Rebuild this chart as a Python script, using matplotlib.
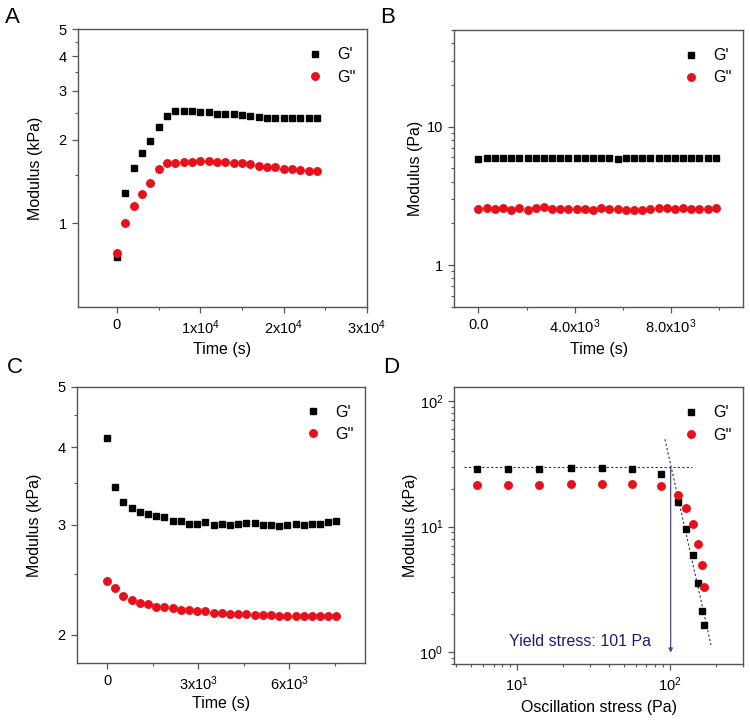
import numpy as np
import matplotlib
matplotlib.use("Agg")
import matplotlib.pyplot as plt
from matplotlib.ticker import FixedLocator, FixedFormatter, LogLocator, NullFormatter
from matplotlib.lines import Line2D

plt.rcParams['font.family'] = ['Liberation Sans', 'DejaVu Sans']
plt.rcParams['mathtext.fontset'] = 'custom'
plt.rcParams['mathtext.rm'] = 'Liberation Sans'
plt.rcParams['mathtext.it'] = 'Liberation Sans:italic'

# ---------------- Data ----------------
# Panel A: time sweep (kPa)
a_time = [0, 1000, 2000, 3000, 4000, 5000, 6000, 7000, 8000, 9000, 10000, 11000, 12000,
          13000, 14000, 15000, 16000, 17000, 18000, 19000, 20000, 21000, 22000, 23000, 24000]
a_gp = [0.754, 1.286, 1.586, 1.80, 1.985, 2.23, 2.43, 2.55, 2.55, 2.54, 2.52, 2.51, 2.48,
        2.47, 2.47, 2.45, 2.43, 2.41, 2.40, 2.39, 2.39, 2.39, 2.39, 2.40, 2.40]
a_gpp = [0.78, 1.00, 1.154, 1.278, 1.40, 1.57, 1.654, 1.65, 1.663, 1.67, 1.675, 1.675, 1.67,
         1.663, 1.654, 1.645, 1.636, 1.609, 1.60, 1.59, 1.57, 1.57, 1.553, 1.55, 1.545]

# Panel B: time sweep (Pa)
b_time = [0, 340, 680, 1020, 1360, 1700, 2040, 2380, 2720, 3060, 3400, 3740, 4080, 4420, 4760,
          5100, 5440, 5780, 6120, 6460, 6800, 7140, 7480, 7820, 8160, 8500, 8840, 9180, 9520, 9860]
b_gp = [5.89, 5.98, 5.98, 5.98, 5.95, 5.98, 5.98, 5.98, 5.98, 5.95, 5.95, 5.92, 5.98, 5.98, 5.98,
        5.98, 5.95, 5.89, 5.98, 5.95, 5.95, 5.95, 5.98, 5.95, 5.95, 5.95, 5.95, 5.95, 5.92, 5.98]
b_gpp = [2.53, 2.58, 2.53, 2.57, 2.51, 2.57, 2.50, 2.60, 2.61, 2.54, 2.54, 2.54, 2.54, 2.56, 2.50,
         2.59, 2.56, 2.54, 2.49, 2.49, 2.49, 2.53, 2.60, 2.59, 2.53, 2.57, 2.53, 2.53, 2.56, 2.57]

# Panel C: time sweep (kPa)
c_time = [0, 270, 540, 810, 1080, 1350, 1620, 1890, 2160, 2430, 2700, 2970, 3240, 3510, 3780,
          4050, 4320, 4590, 4860, 5130, 5400, 5670, 5940, 6210, 6480, 6750, 7020, 7290, 7560]
c_gp = [4.13, 3.45, 3.27, 3.20, 3.15, 3.13, 3.10, 3.09, 3.04, 3.04, 3.013, 3.013, 3.03, 3.00, 3.01,
        3.00, 3.01, 3.02, 3.02, 3.00, 3.00, 2.99, 3.00, 3.01, 3.00, 3.01, 3.01, 3.03, 3.05]
c_gpp = [2.44, 2.375, 2.31, 2.276, 2.25, 2.24, 2.22, 2.215, 2.206, 2.193, 2.19, 2.187, 2.18, 2.17,
         2.168, 2.163, 2.16, 2.158, 2.155, 2.15, 2.148, 2.146, 2.146, 2.145, 2.145, 2.14, 2.14, 2.14, 2.14]

# Panel D: stress sweep (kPa vs Pa)
d_stress = [5.42, 8.73, 13.94, 22.4, 35.7, 56.4, 86.9, 113.4, 127.3, 142.1, 153.3, 161.2, 167.9]
d_gp = [28.5, 28.9, 28.9, 29.3, 29.3, 28.9, 26.4, 15.7, 9.63, 5.94, 3.56, 2.14, 1.64]
d_gpp = [21.3, 21.3, 21.6, 21.7, 21.8, 21.8, 21.2, 17.9, 14.1, 10.4, 7.32, 4.95, 3.31]
d_plateau_x = [4.5, 140]
d_plateau_y = [29.6, 29.6]
d_slope_x = [92.7, 185.5]
d_slope_y = [49.5, 1.14]
yield_stress = 101
yield_label = "Yield stress: 101 Pa"

# ---------------- Figure ----------------
fig = plt.figure(figsize=(7.5, 7.2), dpi=100)

W, H = 750.0, 720.0
def add_ax(l, t, r, b):
    return fig.add_axes([l / W, 1 - b / H, (r - l) / W, (b - t) / H])

axA = add_ax(77.7, 29.3, 367, 307)
axB = add_ax(454.3, 30, 743.3, 306.7)
axC = add_ax(76.7, 386.7, 365, 663.3)
axD = add_ax(454.3, 387.3, 743.3, 664.3)

RED = '#e8101a'
SPINE = '#555555'
TICK_FS = 10.5
LABEL_FS = 11.5

def style(ax):
    for s in ['top', 'right', 'left', 'bottom']:
        ax.spines[s].set_color(SPINE)
        ax.spines[s].set_linewidth(1.0)
    ax.tick_params(which='both', direction='out', color=SPINE, top=False, right=False,
                   labelsize=TICK_FS, labelcolor='black')
    ax.tick_params(which='major', length=4.5, width=0.9)
    ax.tick_params(which='minor', length=2.5, width=0.8)

def plot_pair(ax, x, gp, gpp):
    ax.plot(x, gp, linestyle='none', marker='s', ms=4.8, color='black', mec='black', zorder=3)
    ax.plot(x, gpp, linestyle='none', marker='o', ms=5.4, color=RED, mec=RED, zorder=3)

def legend(ax):
    handles = [Line2D([], [], linestyle='none', marker='s', ms=4.8, color='black'),
               Line2D([], [], linestyle='none', marker='o', ms=5.4, color=RED)]
    ax.legend(handles, ["G'", "G''"], loc='upper right', frameon=False,
              fontsize=LABEL_FS, handlelength=1.0, handletextpad=0.9,
              labelspacing=0.45, borderaxespad=0.3, bbox_to_anchor=(1.0, 0.975))

def m(s):
    return r'$\mathregular{' + s + '}$'

# ---- Panel A ----
plot_pair(axA, a_time, a_gp, a_gpp)
axA.set_yscale('log')
axA.set_ylim(0.5, 5)
axA.set_xlim(-4700, 30000)
axA.yaxis.set_major_locator(FixedLocator([1, 2, 3, 4, 5]))
axA.yaxis.set_major_formatter(FixedFormatter(['1', '2', '3', '4', '5']))
axA.yaxis.set_minor_locator(FixedLocator([1.5, 2.5, 3.5, 4.5]))
axA.yaxis.set_minor_formatter(NullFormatter())
axA.xaxis.set_major_locator(FixedLocator([0, 10000, 20000, 30000]))
axA.xaxis.set_major_formatter(FixedFormatter(['0', m('1x10^{4}'), m('2x10^{4}'), m('3x10^{4}')]))
axA.xaxis.set_minor_locator(FixedLocator([5000, 15000, 25000]))
axA.set_xlabel('Time (s)', fontsize=LABEL_FS, labelpad=4)
axA.set_ylabel('Modulus (kPa)', fontsize=LABEL_FS, labelpad=11)
style(axA)
legend(axA)

# ---- Panel B ----
plot_pair(axB, b_time, b_gp, b_gpp)
axB.set_yscale('log')
axB.set_ylim(0.5, 50)
axB.set_xlim(-1000, 11000)
axB.yaxis.set_major_locator(FixedLocator([1, 10]))
axB.yaxis.set_major_formatter(FixedFormatter(['1', '10']))
axB.yaxis.set_minor_locator(LogLocator(base=10, subs=np.arange(2, 10), numticks=10))
axB.yaxis.set_minor_formatter(NullFormatter())
axB.xaxis.set_major_locator(FixedLocator([0, 4000, 8000]))
axB.xaxis.set_major_formatter(FixedFormatter(['0.0', m('4.0x10^{3}'), m('8.0x10^{3}')]))
axB.xaxis.set_minor_locator(FixedLocator([2000, 6000, 10000]))
axB.set_xlabel('Time (s)', fontsize=LABEL_FS, labelpad=4)
axB.set_ylabel('Modulus (Pa)', fontsize=LABEL_FS, labelpad=3)
style(axB)
legend(axB)

# ---- Panel C ----
plot_pair(axC, c_time, c_gp, c_gpp)
axC.set_yscale('log')
axC.set_ylim(1.8, 5)
axC.set_xlim(-1000, 8500)
axC.yaxis.set_major_locator(FixedLocator([2, 3, 4, 5]))
axC.yaxis.set_major_formatter(FixedFormatter(['2', '3', '4', '5']))
axC.yaxis.set_minor_locator(FixedLocator([2.5, 3.5, 4.5]))
axC.yaxis.set_minor_formatter(NullFormatter())
axC.xaxis.set_major_locator(FixedLocator([0, 3000, 6000]))
axC.xaxis.set_major_formatter(FixedFormatter(['0', m('3x10^{3}'), m('6x10^{3}')]))
axC.xaxis.set_minor_locator(FixedLocator([1500, 4500, 7500]))
axC.set_xlabel('Time (s)', fontsize=LABEL_FS, labelpad=2)
axC.set_ylabel('Modulus (kPa)', fontsize=LABEL_FS, labelpad=11)
style(axC)
legend(axC)

# ---- Panel D ----
axD.plot(d_plateau_x, d_plateau_y, color='#333333', lw=0.8, ls=(0, (2, 2)), zorder=2)
axD.plot(d_slope_x, d_slope_y, color='#333333', lw=0.8, ls=(0, (2, 2)), zorder=2)
axD.annotate('', xy=(yield_stress, 0.99), xytext=(yield_stress, d_plateau_y[0]),
             arrowprops=dict(arrowstyle='-|>', color='#4a4a88', lw=0.9,
                             mutation_scale=6, shrinkA=0, shrinkB=0), zorder=2)
plot_pair(axD, d_stress, d_gp, d_gpp)
axD.set_xscale('log')
axD.set_yscale('log')
axD.set_xlim(3.87, 302)
axD.set_ylim(0.80, 128.5)
axD.xaxis.set_major_locator(FixedLocator([10, 100]))
axD.xaxis.set_major_formatter(FixedFormatter([m('10^{1}'), m('10^{2}')]))
axD.xaxis.set_minor_locator(LogLocator(base=10, subs=np.arange(2, 10), numticks=10))
axD.xaxis.set_minor_formatter(NullFormatter())
axD.yaxis.set_major_locator(FixedLocator([1, 10, 100]))
axD.yaxis.set_major_formatter(FixedFormatter([m('10^{0}'), m('10^{1}'), m('10^{2}')]))
axD.yaxis.set_minor_locator(LogLocator(base=10, subs=np.arange(2, 10), numticks=10))
axD.yaxis.set_minor_formatter(NullFormatter())
axD.set_xlabel('Oscillation stress (Pa)', fontsize=LABEL_FS, labelpad=4)
axD.set_ylabel('Modulus (kPa)', fontsize=LABEL_FS, labelpad=1)
axD.text(8.8, 1.12, yield_label, color='#1c1c78', fontsize=11.5, ha='left', va='baseline')
style(axD)
legend(axD)

# Panel letters
for letter, x, yb in [('A', 5, 23), ('B', 380, 23), ('C', 7, 373), ('D', 383, 373)]:
    fig.text(x / W, 1 - yb / H, letter, fontsize=16, ha='left', va='baseline')

fig.savefig('out.png', dpi=100)
